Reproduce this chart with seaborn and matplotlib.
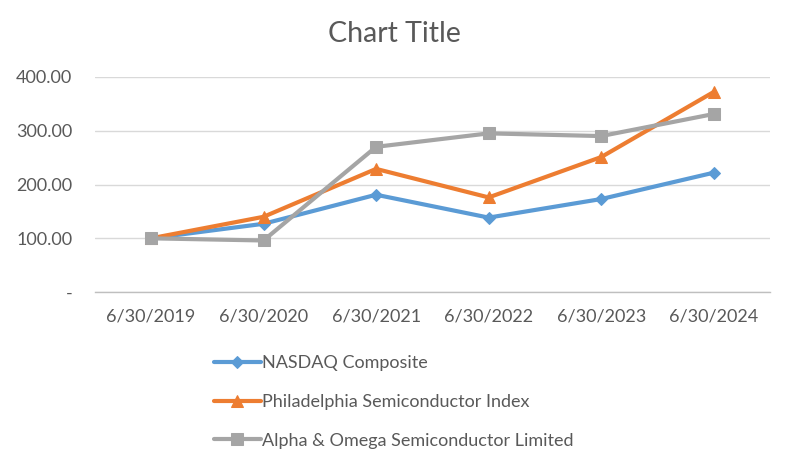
import pandas as pd
import numpy as np
from matplotlib import pyplot as plt
from matplotlib.ticker import FuncFormatter
import seaborn as sns

dates = ['6/30/2019', '6/30/2020', '6/30/2021', '6/30/2022', '6/30/2023', '6/30/2024']
nasdaq = [100.0, 127.0, 181.0, 138.5, 173.0, 222.0]
sox = [100.0, 140.0, 229.0, 176.0, 251.0, 372.0]
aosl = [100.0, 96.0, 270.0, 295.0, 290.0, 331.0]

names = ['NASDAQ Composite', 'Philadelphia Semiconductor Index',
         'Alpha & Omega Semiconductor Limited']
colors = ['#5B9BD5', '#ED7D31', '#A5A5A5']
markers = ['D', '^', 's']
msizes = [6, 8, 8]

# long form table for seaborn
df = pd.concat([
    pd.DataFrame({'date': dates, 'value': vals, 'series': nm})
    for nm, vals in zip(names, [nasdaq, sox, aosl])
])

sns.set_style('white')
plt.rcParams['font.family'] = ['Lato', 'DejaVu Sans']

fig = plt.figure(figsize=(7.89, 4.63), dpi=100)
ax = fig.add_axes([0.120, 0.369, 0.856, 0.465])

for nm, c, m, ms in zip(names, colors, markers, msizes):
    sub = df[df['series'] == nm]
    sns.lineplot(data=sub, x='date', y='value', ax=ax, color=c, lw=3,
                 marker=m, markersize=ms, markeredgecolor=c, label=nm,
                 sort=False, zorder=3)

ax.set_xlim(-0.5, 5.5)
ax.set_ylim(0, 400)
ax.set_yticks([0, 100, 200, 300, 400])
ax.yaxis.set_major_formatter(FuncFormatter(lambda v, p: '-' if v == 0 else f'{v:.2f}'))
ax.grid(axis='y', color='#D9D9D9', lw=1)
ax.set_axisbelow(True)
ax.set_xlabel('')
ax.set_ylabel('')

for s in ['left', 'right', 'top']:
    ax.spines[s].set_visible(False)
ax.spines['bottom'].set_color('#BFBFBF')
ax.spines['bottom'].set_linewidth(1)

ax.set_xticks(np.arange(-0.5, 6, 1), minor=True)
ax.tick_params(axis='x', which='minor', length=5, color='#BFBFBF', width=1)
ax.tick_params(axis='x', which='major', length=0, pad=12, labelsize=13, labelcolor='#595959')
ax.tick_params(axis='y', length=0, pad=16, labelsize=13, labelcolor='#595959')

# title is centred on the whole figure, like the excel chart
fig.suptitle('Chart Title', fontsize=20.5, color='#595959', x=0.5, y=0.955)

ax.get_legend().remove()
h, l = ax.get_legend_handles_labels()
fig.legend(h, l, loc='upper left', bbox_to_anchor=(0.262, 0.248), frameon=False,
           fontsize=13, labelcolor='#595959', labelspacing=1.25,
           handlelength=2.6, handletextpad=0.05, borderaxespad=0)

fig.savefig('out.png', dpi=100)
